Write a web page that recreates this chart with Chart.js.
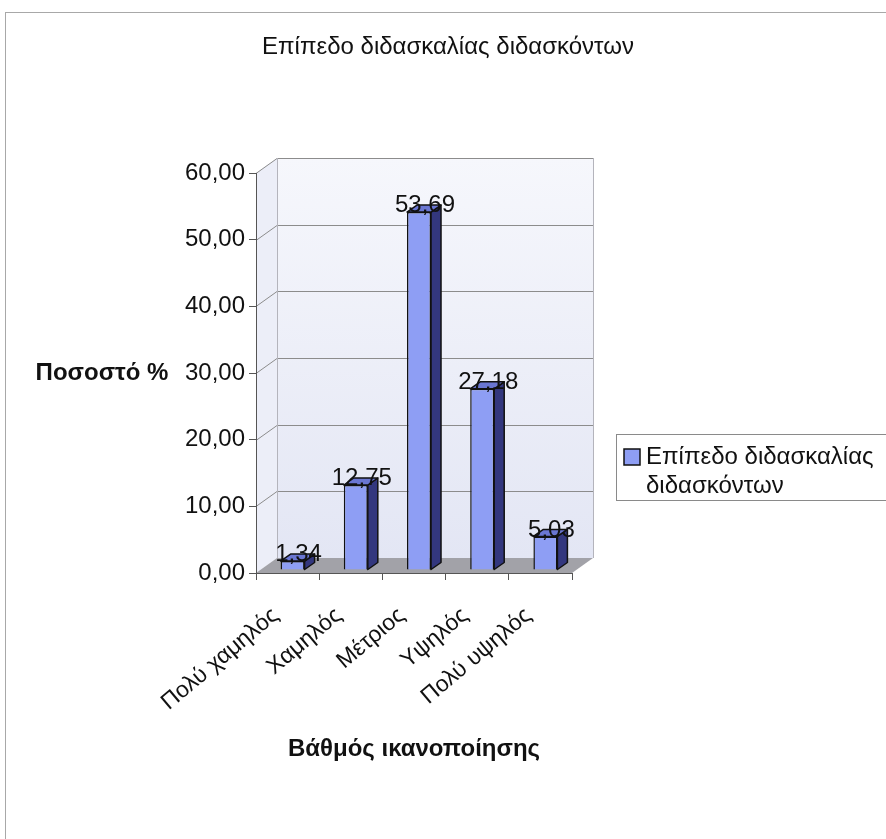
<!DOCTYPE html>
<html lang="el">
<head>
<meta charset="utf-8">
<title>Επίπεδο διδασκαλίας διδασκόντων</title>
<script src="https://cdn.jsdelivr.net/npm/chart.js@4.4.1/dist/chart.umd.min.js"></script>
<style>
    html, body { margin: 0; padding: 0; background: #ffffff; }
    #chart-wrap { position: relative; width: 886px; height: 839px; }
</style>
</head>
<body>
<div id="chart-wrap"><canvas id="teaching-chart" width="886" height="839"></canvas></div>
<script>
/* ---- data ---- */
var categories = ['Πολύ χαμηλός', 'Χαμηλός', 'Μέτριος', 'Υψηλός', 'Πολύ υψηλός'];
var percentValues = [1.34, 12.75, 53.69, 27.18, 5.03];
var yTickValues = [0, 10, 20, 30, 40, 50, 60];
var seriesLabel = 'Επίπεδο διδασκαλίας διδασκόντων';
var legendLines = ['Επίπεδο διδασκαλίας', 'διδασκόντων'];
var xAxisTitle = 'Βάθμός ικανοποίησης';
var yAxisTitle = 'Ποσοστό %';

(function() {
    'use strict';

    var FONT = "'Liberation Sans', Arial, sans-serif";
    var BAR_FRONT = '#8e9ef4';
    var BAR_SIDE = '#33377e';
    var BAR_TOP = '#6a76d2';

    /* 3D depth offsets (walls and bars) */
    var WALL_DX = 21, WALL_DY = -15;
    var BAR_DX = 10, BAR_DY = -7;
    var SHIFT_X = 5, SHIFT_Y = -3;

    function fmt(v) {
        return v.toFixed(2).replace('.', ',');
    }

    /* ---- walls, floor, gridlines, outer frame ---- */
    var wallsPlugin = {
        id: 'walls',
        beforeDraw: function(chart) {
            var ctx = chart.ctx;
            var a = chart.chartArea;
            var y = chart.scales.y;
            var L = a.left, R = a.right, T = a.top, B = a.bottom;

            ctx.save();
            ctx.fillStyle = '#ffffff';
            ctx.fillRect(0, 0, chart.width, chart.height);

            ctx.strokeStyle = '#a8a8a8';
            ctx.lineWidth = 1;
            ctx.strokeRect(5.5, 12.5, 1000, 1000);

            /* chart title, centred on the whole frame */
            ctx.fillStyle = '#111111';
            ctx.font = '24px ' + FONT;
            ctx.textAlign = 'center';
            ctx.textBaseline = 'middle';
            ctx.fillText(seriesLabel, 448, 47);

            /* back wall */
            var g = ctx.createLinearGradient(0, T + WALL_DY, 0, B + WALL_DY);
            g.addColorStop(0, '#f6f7fc');
            g.addColorStop(1, '#e3e6f4');
            ctx.fillStyle = g;
            ctx.fillRect(L + WALL_DX, T + WALL_DY, R - L, B - T);

            /* left wall */
            ctx.fillStyle = '#eceef8';
            ctx.beginPath();
            ctx.moveTo(L, T);
            ctx.lineTo(L + WALL_DX, T + WALL_DY);
            ctx.lineTo(L + WALL_DX, B + WALL_DY);
            ctx.lineTo(L, B);
            ctx.closePath();
            ctx.fill();

            /* gridlines on both walls */
            ctx.strokeStyle = '#8c8c8c';
            ctx.lineWidth = 1;
            yTickValues.forEach(function(v) {
                if (v === 0) return;
                var py = Math.round(y.getPixelForValue(v)) + 0.5;
                ctx.beginPath();
                ctx.moveTo(L, py);
                ctx.lineTo(L + WALL_DX, py + WALL_DY);
                ctx.lineTo(R + WALL_DX, py + WALL_DY);
                ctx.stroke();
            });
            ctx.strokeStyle = '#b4b4bc';
            ctx.beginPath();
            ctx.moveTo(L + WALL_DX + 0.5, T + WALL_DY);
            ctx.lineTo(L + WALL_DX + 0.5, B + WALL_DY);
            ctx.moveTo(R + WALL_DX + 0.5, T + WALL_DY);
            ctx.lineTo(R + WALL_DX + 0.5, B + WALL_DY);
            ctx.stroke();

            /* floor */
            ctx.fillStyle = '#a2a2a8';
            ctx.beginPath();
            ctx.moveTo(L, B);
            ctx.lineTo(L + WALL_DX, B + WALL_DY);
            ctx.lineTo(R + WALL_DX, B + WALL_DY);
            ctx.lineTo(R, B);
            ctx.closePath();
            ctx.fill();
            ctx.restore();
        }
    };

    /* ---- 3D bar faces and value labels ---- */
    var barsPlugin = {
        id: 'bars3d',
        beforeDatasetsDraw: function(chart) {
            chart.ctx.save();
            chart.ctx.translate(SHIFT_X, SHIFT_Y);
        },
        afterDatasetsDraw: function(chart) {
            var ctx = chart.ctx;
            var meta = chart.getDatasetMeta(0);
            ctx.lineWidth = 1.5;
            ctx.strokeStyle = '#111111';
            ctx.lineJoin = 'round';
            meta.data.forEach(function(bar) {
                var p = bar.getProps(['x', 'y', 'base', 'width'], true);
                var left = p.x - p.width / 2, right = p.x + p.width / 2;
                /* side face */
                ctx.fillStyle = BAR_SIDE;
                ctx.beginPath();
                ctx.moveTo(right, p.y);
                ctx.lineTo(right + BAR_DX, p.y + BAR_DY);
                ctx.lineTo(right + BAR_DX, p.base + BAR_DY);
                ctx.lineTo(right, p.base);
                ctx.closePath();
                ctx.fill();
                ctx.stroke();
                /* top face */
                ctx.fillStyle = BAR_TOP;
                ctx.beginPath();
                ctx.moveTo(left, p.y);
                ctx.lineTo(left + BAR_DX, p.y + BAR_DY);
                ctx.lineTo(right + BAR_DX, p.y + BAR_DY);
                ctx.lineTo(right, p.y);
                ctx.closePath();
                ctx.fill();
                ctx.stroke();
            });
            /* value labels */
            ctx.fillStyle = '#111111';
            ctx.font = '24px ' + FONT;
            ctx.textAlign = 'center';
            ctx.textBaseline = 'middle';
            meta.data.forEach(function(bar, i) {
                var p = bar.getProps(['x', 'y'], true);
                ctx.fillText(fmt(percentValues[i]), p.x + BAR_DX / 2 + 1, p.y + BAR_DY / 2 - 3);
            });
            ctx.restore();
        },
        afterDraw: function(chart) {
            var ctx = chart.ctx;
            var a = chart.chartArea;
            ctx.save();
            /* horizontal y axis title */
            ctx.fillStyle = '#111111';
            ctx.font = 'bold 24px ' + FONT;
            ctx.textAlign = 'center';
            ctx.textBaseline = 'middle';
            ctx.fillText(yAxisTitle, 102, (a.top + a.bottom) / 2);

            /* legend box, text wraps onto two lines */
            ctx.fillStyle = '#ffffff';
            ctx.fillRect(616, 434, 400, 66);
            ctx.strokeStyle = '#8a8a8a';
            ctx.lineWidth = 1;
            ctx.strokeRect(616.5, 434.5, 400, 66);
            ctx.fillStyle = BAR_FRONT;
            ctx.fillRect(624, 449, 16, 16);
            ctx.strokeStyle = '#111111';
            ctx.lineWidth = 1.5;
            ctx.strokeRect(624, 449, 16, 16);
            ctx.fillStyle = '#111111';
            ctx.font = '24px ' + FONT;
            ctx.textAlign = 'left';
            legendLines.forEach(function(line, i) {
                ctx.fillText(line, 646, 457 + i * 29);
            });
            ctx.restore();
        }
    };

    var canvas = document.getElementById('teaching-chart');
    new Chart(canvas, {
        type: 'bar',
        data: {
            labels: categories,
            datasets: [{
                label: seriesLabel,
                data: percentValues,
                backgroundColor: BAR_FRONT,
                borderColor: '#111111',
                borderWidth: 1.5,
                barPercentage: 0.38,
                categoryPercentage: 1,
                clip: false
            }]
        },
        options: {
            responsive: false,
            animation: false,
            layout: { padding: { left: 0, right: 314, top: 173, bottom: 0 } },
            plugins: {
                legend: { display: false },
                tooltip: { enabled: false },
                title: { display: false }
            },
            scales: {
                y: {
                    min: 0,
                    max: 60,
                    afterBuildTicks: function(scale) {
                        scale.ticks = yTickValues.map(function(v) { return { value: v }; });
                    },
                    afterFit: function(scale) { scale.width = 256; },
                    border: { color: '#555555', width: 1 },
                    grid: { drawOnChartArea: false, drawTicks: true, tickLength: 7, color: '#555555' },
                    ticks: {
                        padding: 4,
                        color: '#111111',
                        font: { size: 24, family: FONT },
                        callback: function(v) { return fmt(v); }
                    }
                },
                x: {
                    afterFit: function(scale) { scale.height = 266; },
                    border: { color: '#555555', width: 1 },
                    grid: { drawOnChartArea: false, drawTicks: true, tickLength: 7, color: '#555555', offset: true },
                    ticks: {
                        padding: 22,
                        labelOffset: -12,
                        color: '#111111',
                        minRotation: 40,
                        maxRotation: 40,
                        font: { size: 23, family: FONT }
                    },
                    title: {
                        display: true,
                        text: xAxisTitle,
                        color: '#111111',
                        font: { size: 24, weight: 'bold', family: FONT },
                        padding: { top: 0, bottom: 75 }
                    }
                }
            }
        },
        plugins: [wallsPlugin, barsPlugin]
    });
})();
</script>
</body>
</html>
